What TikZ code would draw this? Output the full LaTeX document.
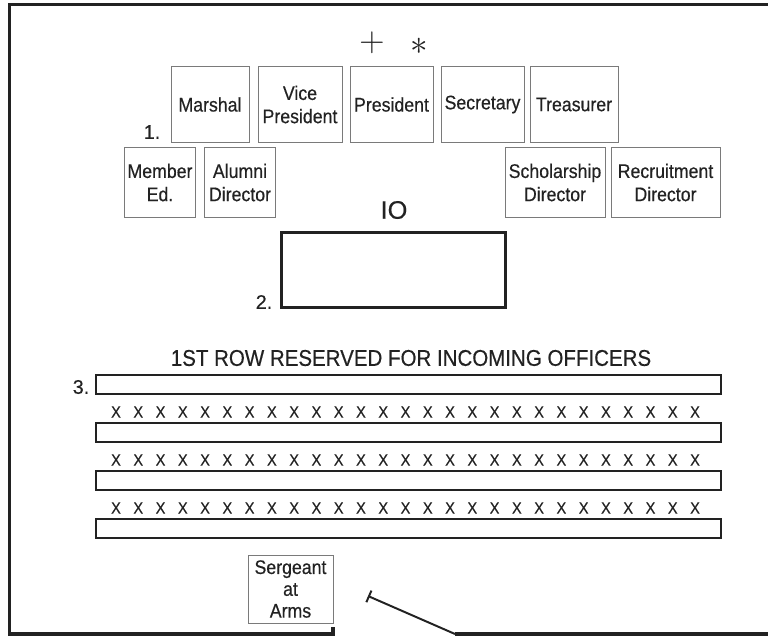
\documentclass[tikz,border=0pt]{standalone}
\usepackage{fontspec}
\setmainfont{Liberation Sans}[FakeBold=0.35]
\newfontfamily\narrowsf{Liberation Sans}[FakeStretch=0.9,FakeBold=0.45]
\usepackage{tikz}
\usetikzlibrary{arrows.meta}
\definecolor{PlanInk}{HTML}{222222}
\definecolor{PlanGray}{HTML}{7A7A7A}

\begin{document}
\begin{tikzpicture}[x=0.025cm,y=-0.025cm,text=PlanInk,
  office/.style={draw=PlanGray,line width=0.7pt,align=center,inner sep=1pt,font=\narrowsf\fontsize{14}{16.5}\selectfont},
  bench/.style={draw=PlanInk,line width=1.5pt},
  seat/.style={inner sep=0pt,font=\narrowsf\fontsize{11.5}{12}\selectfont},
  numlab/.style={inner sep=0pt,font=\fontsize{14}{16}\selectfont}]
\useasboundingbox (0,0) rectangle (768,636);
% outer walls and door
\draw[PlanInk,line width=2.2pt] (768,4.5)--(9.5,4.5)--(9.5,634)--(333,634)--(333,627);
\coordinate (hinge) at (455,634);\coordinate (swing) at (368,596);
\draw[PlanInk,line width=2.2pt] (hinge)--(768,634);
\draw[PlanInk,line width=1.4pt,{Bar[width=9pt]}-] (swing)--(hinge);
% officers
\node[inner sep=0pt,font=\fontsize{24}{24}\selectfont] (plus) at (372,43) {$+$};
\node[inner sep=0pt,font=\fontsize{24}{24}\selectfont] (star) at (419,46) {$\ast$};
\foreach \n/\cx/\w/\lab in {marshal/210/1.95/Marshal,vicepres/300/2.1/{Vice\\President},pres/391.5/2.075/President,sec/482.5/2.075/Secretary,treas/574/2.2/Treasurer}
  \node[office,minimum width=\w cm,minimum height=1.875cm] (\n) at (\cx,104.5) {\lab};
\foreach \n/\cx/\w/\lab in {membered/160/1.775/{Member\\Ed.},alumni/240/1.79/{Alumni\\Director},scholar/555/2.5/{Scholarship\\Director},recruit/665.5/2.725/{Recruitment\\Director}}
  \node[office,minimum width=\w cm,minimum height=1.725cm] (\n) at (\cx,182.5) {\lab};
\node[numlab] (one) at (152,132) {1.};
% IO table
\node[inner sep=0pt,font=\fontsize{18}{18}\selectfont] (io) at (394,210) {IO};
\node[draw=PlanInk,line width=1.5pt,minimum width=5.6cm,minimum height=1.875cm] (table) at (393.5,270) {};
\node[numlab] (two) at (264,302) {2.};
% rows
\node[inner sep=0pt,font=\narrowsf\fontsize{16.2}{16}\selectfont] (rowtitle) at (411,358) {1ST ROW RESERVED FOR INCOMING OFFICERS};
\node[numlab] (three) at (81,387) {3.};
\foreach \i/\y in {1/375,2/423,3/471,4/519}\draw[bench] (96,\y) rectangle (721,\y+19);
\foreach \r in {412,460,508}{\foreach \k in {0,...,26}{\node[seat] (x-\r-\k) at (116+22.27*\k,\r) {X};}}
\node[office,minimum width=2.125cm,minimum height=1.7cm,font=\narrowsf\fontsize{14}{15.5}\selectfont] (sergeant) at (290.5,589) {Sergeant\\at\\Arms};
\end{tikzpicture}
\end{document}
